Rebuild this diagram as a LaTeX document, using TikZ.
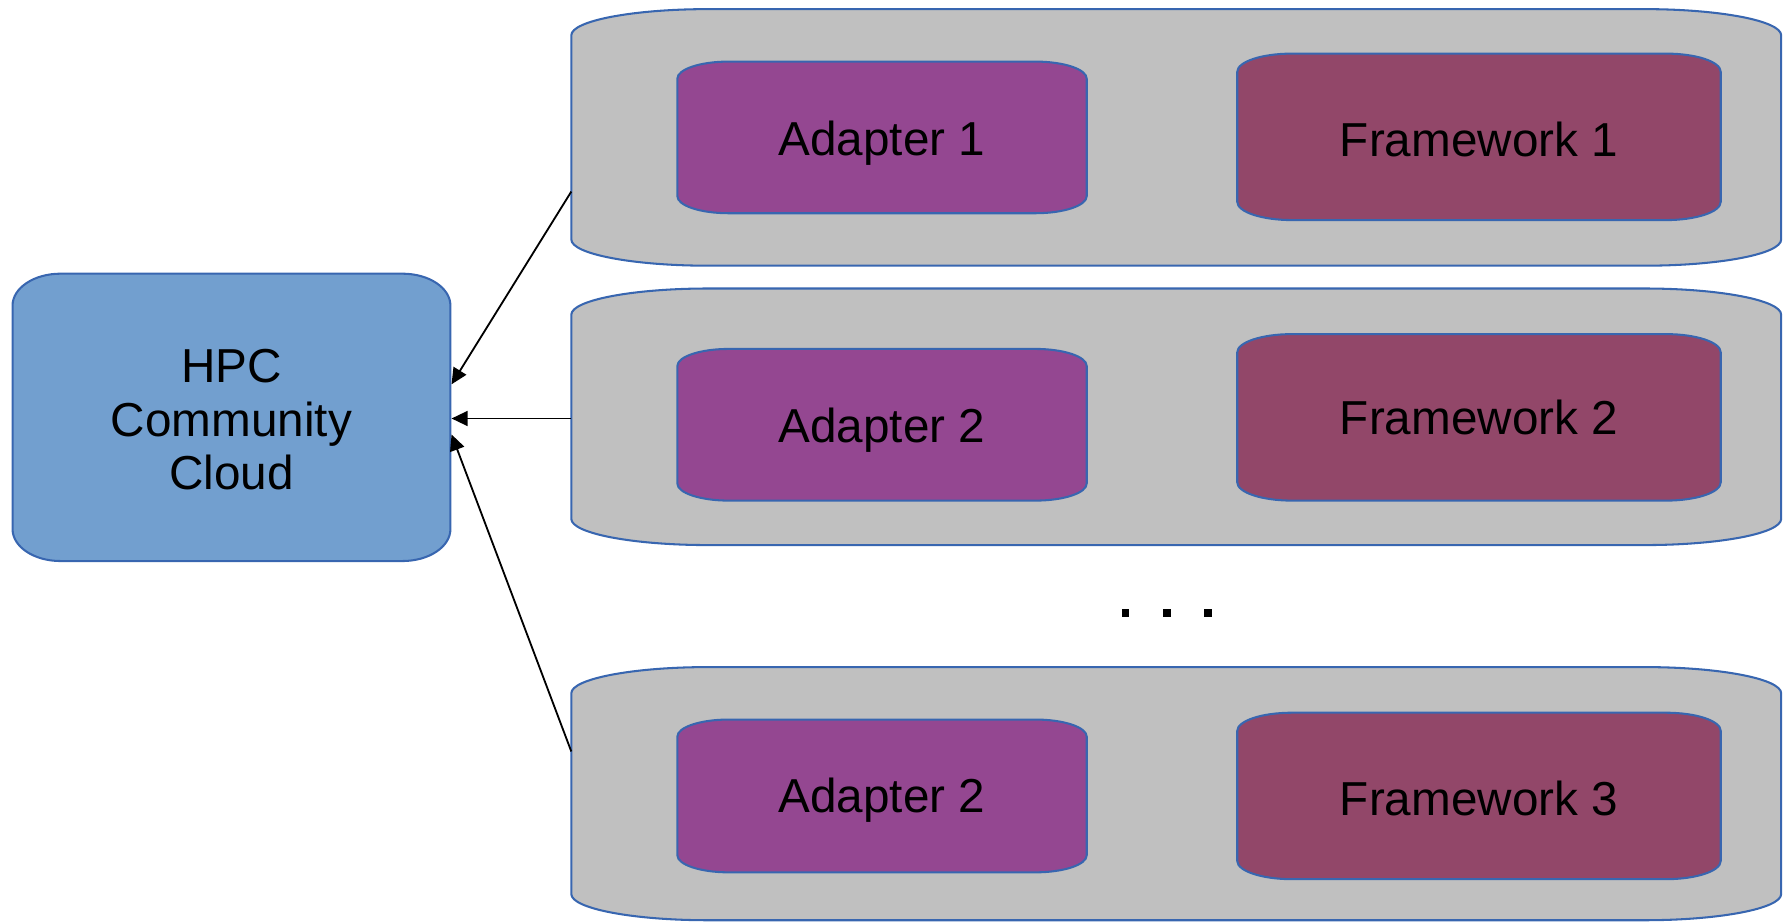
\documentclass[tikz,border=0pt]{standalone}
\usepackage{fontspec}
\setmainfont{Liberation Sans}
\usetikzlibrary{calc,arrows.meta,backgrounds}
\definecolor{cloudfill}{RGB}{114,159,207}
\definecolor{edgeblue}{RGB}{56,102,176}
\definecolor{boxgray}{RGB}{192,192,192}
\definecolor{adapterfill}{RGB}{148,71,145}
\definecolor{frameworkfill}{RGB}{146,71,105}
\newcommand{\ebox}[4]{% node name, fill, x radius, y radius
  \draw[line width=1.8pt,draw=edgeblue,fill=#2]
    ($(#1.north west)+(#3,0)$) -- ($(#1.north east)+(-#3,0)$)
    arc[start angle=90,end angle=0,x radius=#3,y radius=#4]
    -- ($(#1.south east)+(0,#4)$)
    arc[start angle=0,end angle=-90,x radius=#3,y radius=#4]
    -- ($(#1.south west)+(#3,0)$)
    arc[start angle=270,end angle=180,x radius=#3,y radius=#4]
    -- ($(#1.north west)+(0,-#4)$)
    arc[start angle=180,end angle=90,x radius=#3,y radius=#4]
    -- cycle;}
\begin{document}
\begin{tikzpicture}[x=1pt,y=1pt,
  holder/.style={rectangle,inner sep=0pt,outer sep=0pt},
  txt/.style={inner sep=0pt,align=center,
    font=\fontsize{41.8}{47}\selectfont,text=black},
  link/.style={line width=1.6pt,-{Triangle[length=14pt,width=13pt]}}]
\useasboundingbox (0,0) rectangle (1568,-808.6);
% containers
\node[holder,minimum width=1061pt,minimum height=225pt] (g1) at (1031.5,-120.5) {};
\node[holder,minimum width=1061pt,minimum height=225pt] (g2) at (1031.5,-365.5) {};
\node[holder,minimum width=1061pt,minimum height=222pt] (g3) at (1031.5,-696) {};
% inner boxes
\node[holder,minimum width=359pt,minimum height=133pt,
  label={[txt,yshift=-5pt]center:Adapter 1}] (a1) at (773.5,-120.5) {};
\node[holder,minimum width=359pt,minimum height=133pt,
  label={[txt,yshift=-5pt]center:Adapter 2}] (a2) at (773.5,-372.5) {};
\node[holder,minimum width=359pt,minimum height=134pt,
  label={[txt,yshift=-4pt]center:Adapter 2}] (a3) at (773.5,-698) {};
\node[holder,minimum width=424pt,minimum height=146pt,
  label={[txt,yshift=-2pt]center:Framework 1}] (f1) at (1297,-120) {};
\node[holder,minimum width=424pt,minimum height=146pt,
  label={[txt,yshift=0pt]center:Framework 2}] (f2) at (1297,-366) {};
\node[holder,minimum width=424pt,minimum height=146pt,
  label={[txt,yshift=-2pt]center:Framework 3}] (f3) at (1297,-698) {};
% cloud
\node[holder,minimum width=384pt,minimum height=252pt,
  label={[txt,yshift=-2pt]center:{HPC\\Community\\Cloud}}] (cloud) at (203,-366) {};
\begin{scope}[on background layer]
  \ebox{g1}{boxgray}{120pt}{23pt}
  \ebox{g2}{boxgray}{120pt}{23pt}
  \ebox{g3}{boxgray}{120pt}{23pt}
  \ebox{a1}{adapterfill}{45pt}{15pt}
  \ebox{a2}{adapterfill}{45pt}{15pt}
  \ebox{a3}{adapterfill}{45pt}{15pt}
  \ebox{f1}{frameworkfill}{48pt}{16pt}
  \ebox{f2}{frameworkfill}{48pt}{16pt}
  \ebox{f3}{frameworkfill}{48pt}{16pt}
  \ebox{cloud}{cloudfill}{42pt}{28pt}
\end{scope}
% dots
\foreach \dx in {987,1023,1059}
  \fill[black] (\dx-3.5,-534) rectangle (\dx+3.5,-541);
% connectors
\draw[link] ($(g1.west)+(0,-47.5)$) -- ($(cloud.east)+(1,29)$);
\draw[link] ($(g2.west)+(0,-1.5)$) -- ($(cloud.east)+(1,-1)$);
\draw[link] ($(g3.west)+(0,37)$) -- ($(cloud.east)+(1,-15)$);
\end{tikzpicture}
\end{document}
